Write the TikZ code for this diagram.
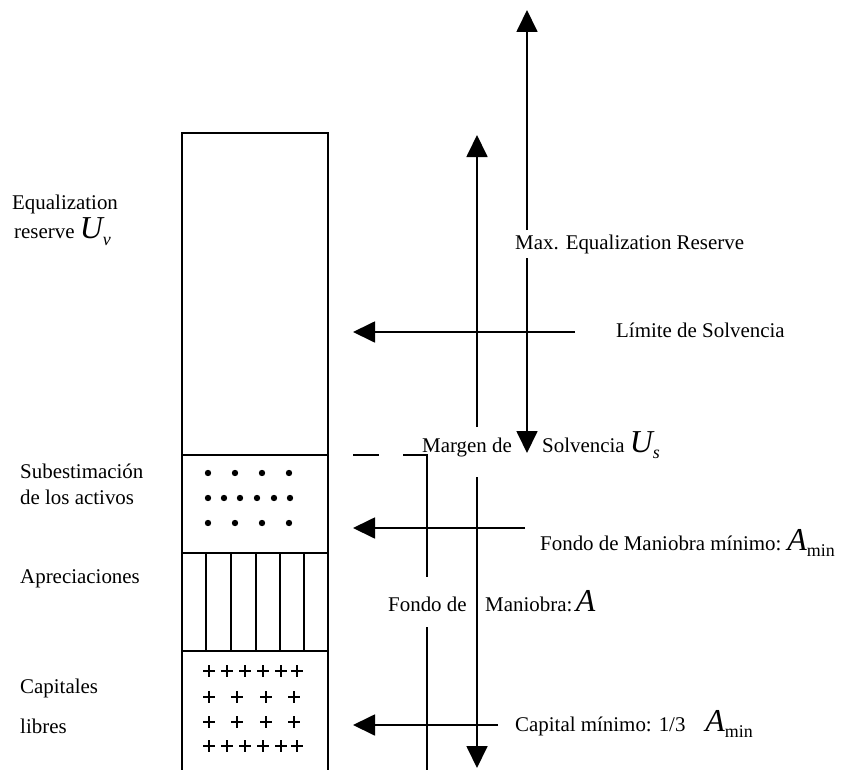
\documentclass[tikz,border=0pt]{standalone}
\usepackage{fontspec}
\setmainfont{Liberation Serif}
\usetikzlibrary{arrows.meta}
\newcommand\bigv[1]{{\fontsize{32}{32}\selectfont\itshape #1}}
\newcommand\smsub[2][-6bp]{\raisebox{#1}{\fontsize{18}{18}\selectfont #2}}
\begin{document}
\begin{tikzpicture}[x=1bp,y=-1bp,
  lbl/.style={anchor=base west,inner sep=0pt,font=\fontsize{21}{25}\selectfont},
  ln/.style={line width=1.8bp},
  tip/.style={ln,-{Triangle[length=22bp,width=21bp]}},
  cell/.style={line width=1.4bp},
  plusm/.style={line width=1.4bp}]
\useasboundingbox (0,0) rectangle (850,770);

% column
\draw[cell] (182,770) -- (182,133) -- (328,133) -- (328,770);
\foreach \y in {455,553,651} \draw[cell] (182,\y) -- (328,\y);
\foreach \x in {206,231,256,280,304} \draw[cell] (\x,553) -- (\x,651);
\foreach \y in {473,523} \foreach \x in {208,235,262,289} \fill (\x,\y) circle (3.2bp);
\foreach \x in {208,224,240,257,274,290} \fill (\x,498) circle (3.2bp);
\foreach \y in {671,746} \foreach \x in {209,227,245,263,281,297}
  \draw[plusm] (\x-6,\y) -- (\x+6,\y) (\x,\y-6) -- (\x,\y+6);
\foreach \y in {697,722} \foreach \x in {209,237,266,294}
  \draw[plusm] (\x-6,\y) -- (\x+6,\y) (\x,\y-6) -- (\x,\y+6);

% coordinates
\coordinate (mtop) at (527,10);
\coordinate (mup) at (527,230);
\coordinate (mdn) at (527,258);
\coordinate (mbot) at (527,453);
\coordinate (ftop) at (477,135);
\coordinate (fup) at (477,427);
\coordinate (fdn) at (477,477);
\coordinate (fbot) at (477,768);
\coordinate (d1) at (353,455);
\coordinate (d2) at (379,455);
\coordinate (d3) at (403,455);
\coordinate (d4) at (427,455);
\coordinate (d5) at (427,577);
\coordinate (d6) at (427,627);
\coordinate (d7) at (427,770);
\coordinate (ls) at (575,332);
\coordinate (le) at (353,332);
\coordinate (fs) at (525,528);
\coordinate (fe) at (353,528);
\coordinate (cs) at (498,725);
\coordinate (ce) at (353,725);

% arrows
\draw[tip] (mup) -- (mtop);
\draw[tip] (mdn) -- (mbot);
\draw[tip] (fup) -- (ftop);
\draw[tip] (fdn) -- (fbot);
\draw[ln] (d1) -- (d2);
\draw[ln] (d3) -- (d4) -- (d5);
\draw[ln] (d6) -- (d7);
\draw[tip] (ls) -- (le);
\draw[tip] (fs) -- (fe);
\draw[tip] (cs) -- (ce);

% right texts
\node[lbl] (tmax) at (515,249) {Max. Equalization Reserve};
\node[lbl] (tlim) at (616,337) {Límite de Solvencia};
\node[lbl] (tmar) at (422,452) {Margen de};
\node[lbl] (tsol) at (542,452) {Solvencia \bigv{U}\smsub{\itshape s}};
\node[lbl] (tfmm) at (540,550) {Fondo de Maniobra mínimo:\hspace{6bp}\bigv{A}\smsub{min}};
\node[lbl] (tfd) at (388,611) {Fondo de};
\node[lbl] (tman) at (485,611) {Maniobra:\,\bigv{A}};
\node[lbl] (tcap) at (515,731) {Capital mínimo: 1/3\hspace{20bp}\bigv{A}\smsub{min}};

% left texts
\node[lbl] (teq) at (12,209) {Equalization};
\node[lbl] (tres) at (14,238) {reserve \bigv{U}\smsub[-7bp]{\itshape ν}};
\node[lbl] (tsub) at (20,478) {Subestimación};
\node[lbl] (tact) at (20,504) {de los activos};
\node[lbl] (tapr) at (20,583) {Apreciaciones};
\node[lbl] (tcp) at (20,693) {Capitales};
\node[lbl] (tlib) at (20,733) {libres};
\end{tikzpicture}
\end{document}
